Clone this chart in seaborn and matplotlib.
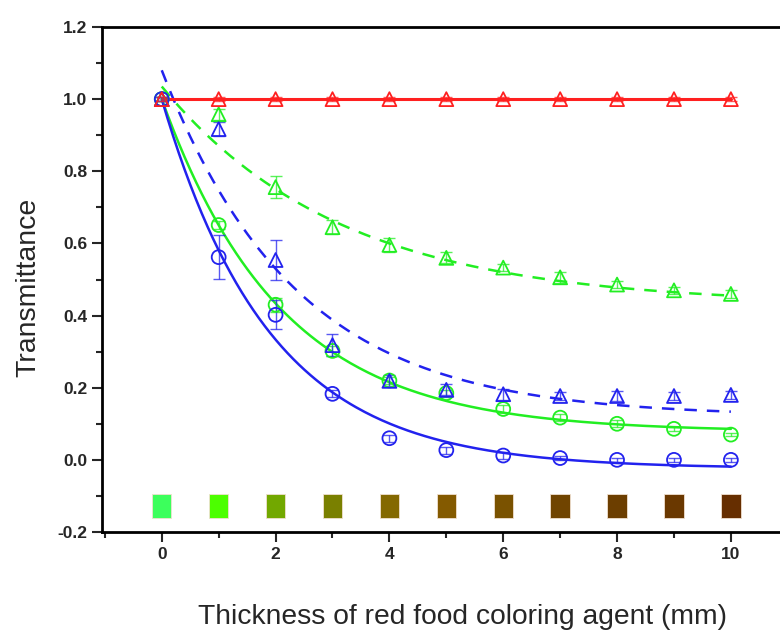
import numpy as np
import pandas as pd
import matplotlib
matplotlib.use("Agg")
import matplotlib.pyplot as plt
import seaborn as sns
from matplotlib.patches import Rectangle
from matplotlib.ticker import MultipleLocator

# ------------------------------
# Data
# ------------------------------
thickness = [0, 1, 2, 3, 4, 5, 6, 7, 8, 9, 10]

red_tri = [1.0, 1.0, 1.0, 1.0, 1.0, 1.0, 1.0, 1.0, 1.0, 1.0, 1.0]
red_tri_err = [0.005] * 11

green_tri = [1.0, 0.958, 0.756, 0.645, 0.596, 0.560, 0.533, 0.506, 0.486, 0.470, 0.460]
green_tri_err = [0.005, 0.015, 0.03, 0.02, 0.02, 0.015, 0.01, 0.015, 0.01, 0.01, 0.01]

blue_tri = [1.0, 0.917, 0.554, 0.318, 0.219, 0.194, 0.182, 0.177, 0.177, 0.177, 0.180]
blue_tri_err = [0.005, 0.02, 0.055, 0.03, 0.015, 0.015, 0.015, 0.01, 0.015, 0.01, 0.01]

green_circ = [1.0, 0.651, 0.430, 0.302, 0.220, 0.185, 0.141, 0.117, 0.100, 0.086, 0.070]
green_circ_err = [0.005, 0.01, 0.02, 0.015, 0.01, 0.01, 0.01, 0.01, 0.01, 0.005, 0.005]

blue_circ = [1.0, 0.562, 0.402, 0.183, 0.060, 0.027, 0.012, 0.005, 0.0, 0.0, 0.0]
blue_circ_err = [0.005, 0.06, 0.04, 0.01, 0.01, 0.01, 0.01, 0.005, 0.005, 0.005, 0.005]

# exponential decay fits (y0, A, t) : y = y0 + A * exp(-x / t)
fit_green_dash = (0.430, 0.605, 3.15)
fit_blue_dash = (0.120, 0.960, 2.35)
fit_green_solid = (0.078, 0.922, 2.10)
fit_blue_solid = (-0.024, 1.024, 1.90)

# colour swatches of the dye layers
swatch_colors = ["#3CFF5C", "#4CFF00", "#72A800", "#7A8000", "#846800", "#845A00",
                 "#7A5200", "#704400", "#6C3E00", "#6A3800", "#662E00"]

RED = "#FF2020"
GREEN = "#22EE22"
BLUE = "#2222EE"

sns.set_style("ticks")
plt.rcParams["font.family"] = ["Liberation Sans", "DejaVu Sans"]

fig = plt.figure(figsize=(7.8, 6.34), dpi=100)
ax = fig.add_axes([102 / 780, 102 / 634, 1 - 102 / 780 + 0.01, 505 / 634])

# fitted curves
xs = np.linspace(0, 10, 200)
curves = []
for name, (y0, a, t) in [("green_dash", fit_green_dash), ("blue_dash", fit_blue_dash),
                         ("green_solid", fit_green_solid), ("blue_solid", fit_blue_solid)]:
    curves.append(pd.DataFrame({"x": xs, "y": y0 + a * np.exp(-xs / t), "fit": name}))
curves = pd.concat(curves)

sns.lineplot(data=curves[curves.fit == "green_dash"], x="x", y="y", color=GREEN,
             lw=1.8, ax=ax, linestyle=(0, (5, 4)))
sns.lineplot(data=curves[curves.fit == "blue_dash"], x="x", y="y", color=BLUE,
             lw=1.8, ax=ax, linestyle=(0, (5, 4)))
sns.lineplot(data=curves[curves.fit == "green_solid"], x="x", y="y", color=GREEN, lw=1.8, ax=ax)
sns.lineplot(data=curves[curves.fit == "blue_solid"], x="x", y="y", color=BLUE, lw=1.8, ax=ax)
sns.lineplot(x=thickness, y=red_tri, color=RED, lw=2.2, ax=ax)

# data points with error bars
series = [
    (green_tri, green_tri_err, GREEN, "^"),
    (green_circ, green_circ_err, GREEN, "o"),
    (blue_tri, blue_tri_err, BLUE, "^"),
    (blue_circ, blue_circ_err, BLUE, "o"),
    (red_tri, red_tri_err, RED, "^"),
]
for vals, err, col, mk in series:
    ax.errorbar(thickness, vals, yerr=err, fmt="none", ecolor=col, elinewidth=1,
                capsize=4, capthick=1, alpha=0.75)
    sns.scatterplot(x=thickness, y=vals, marker=mk, s=100, facecolor="none",
                    edgecolor=col, linewidth=1.3, ax=ax, zorder=4)

# colour swatches
for xi, c in zip(thickness, swatch_colors):
    ax.add_patch(Rectangle((xi - 0.17, -0.162), 0.34, 0.068, facecolor=c,
                           edgecolor="#f0e0d0", lw=0.6, zorder=3))

ax.set_xlim(-1.05, 11.0)
ax.set_ylim(-0.2, 1.2)
ax.xaxis.set_major_locator(MultipleLocator(2))
ax.xaxis.set_minor_locator(MultipleLocator(1))
ax.yaxis.set_minor_locator(MultipleLocator(0.1))
ax.set_yticks(np.arange(-0.2, 1.21, 0.2))
ax.set_yticklabels([f"{v:.1f}" for v in np.arange(-0.2, 1.21, 0.2)])

ax.tick_params(which="major", direction="out", length=7, width=1.5, labelsize=12.5)
ax.tick_params(which="minor", direction="out", length=4, width=1.5)
for lab in ax.get_xticklabels() + ax.get_yticklabels():
    lab.set_fontweight("bold")

for side in ["left", "bottom", "top"]:
    ax.spines[side].set_visible(True)
    ax.spines[side].set_linewidth(2)
    ax.spines[side].set_color("black")
ax.spines["right"].set_visible(False)

ax.set_xlabel("Thickness of red food coloring agent (mm)", fontsize=20.3)
ax.set_ylabel("Transmittance", fontsize=20.5)
ax.xaxis.set_label_coords(0.525, -0.142)
ax.yaxis.set_label_coords(-0.089, 0.485)

fig.savefig("out.png", dpi=100)
